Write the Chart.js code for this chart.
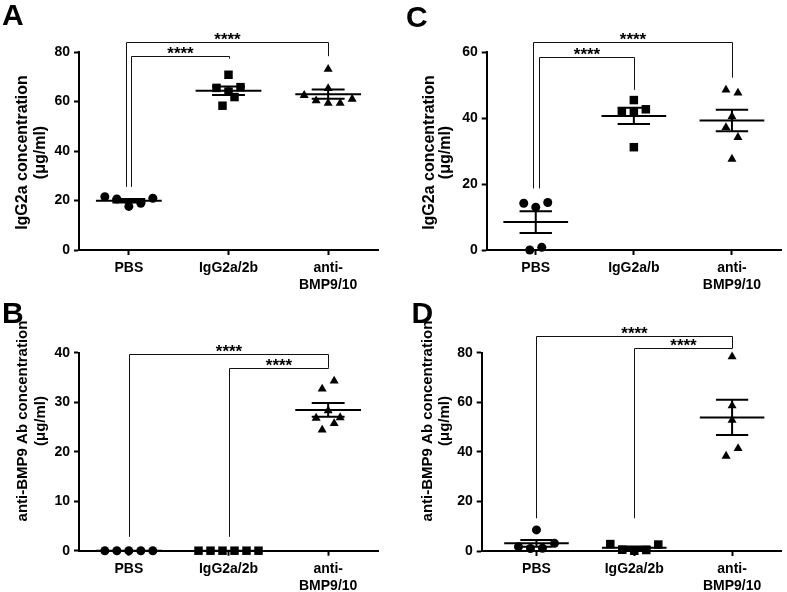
<!DOCTYPE html>
<html>
<head>
<meta charset="utf-8">
<script src="https://cdn.jsdelivr.net/npm/chart.js@4.4.0/dist/chart.umd.min.js"></script>
<style>
html, body { margin: 0; padding: 0; background: #fff; }
#wrap { position: relative; width: 787px; height: 592px; overflow: hidden; }
#wrap canvas { position: absolute; }
</style>
</head>
<body>
<div id="wrap">
  <canvas id="chartA" width="393" height="296" style="left:0px;top:0px"></canvas>
  <canvas id="chartB" width="393" height="296" style="left:0px;top:296px"></canvas>
  <canvas id="chartC" width="394" height="296" style="left:393px;top:0px"></canvas>
  <canvas id="chartD" width="394" height="296" style="left:393px;top:296px"></canvas>
</div>
<script>
// group labels
var groupsAB = ['PBS', 'IgG2a/2b', ['anti-', 'BMP9/10']];
var groupsC = ['PBS', 'IgG2a/b', ['anti-', 'BMP9/10']];

// A - IgG2a concentration (ug/ml)
var pbsA = [21.5, 20.6, 17.6, 18.9, 20.9];
var iggA = [70.8, 65.5, 64.0, 65.8, 58.3, 61.8];
var antiA = [73.1, 65.3, 62.5, 60.3, 59.3, 59.3, 61.0];
var ticksA = [0, 20, 40, 60, 80];

// B - anti-BMP9 Ab concentration (ug/ml)
var pbsB = [0, 0, 0, 0, 0];
var iggB = [0, 0, 0, 0, 0, 0];
var antiB = [32.7, 34.3, 26.8, 28.3, 26.9, 24.4, 25.7];
var ticksB = [0, 10, 20, 30, 40];

// C - IgG2a concentration (ug/ml)
var pbsC = [14.2, 13.0, 14.4, 0.0, 0.8];
var iggC = [45.5, 42.0, 42.0, 42.7, 31.2];
var antiC = [48.6, 47.7, 40.5, 37.2, 34.2, 27.6];
var ticksC = [0, 20, 40, 60];

// D - anti-BMP9 Ab concentration (ug/ml)
var pbsD = [8.5, 1.7, 1.0, 1.1, 3.1];
var iggD = [2.8, 0.5, 0.1, 0.4, 2.6];
var antiD = [78.4, 58.6, 52.8, 38.3, 41.4];
var ticksD = [0, 20, 40, 60, 80];

// significance brackets (group index / data units)
var bracketsA = [
    { from: -0.025, to: 2, top: 83.9, leftEnd: 25.5, rightEnd: 78.3, text: '****' },
    { from: 0.025, to: 1, top: 78.3, leftEnd: 25.5, rightEnd: 77.3, text: '****' }
];
var bracketsB = [
    { from: 0, to: 2, top: 39.7, leftEnd: 2.8, rightEnd: 37.0, text: '****' },
    { from: 1, to: 2, top: 37.0, leftEnd: 2.8, rightEnd: 37.0, text: '****' }
];
var bracketsC = [
    { from: -0.03, to: 2, top: 63.0, leftEnd: 18.7, rightEnd: 52.3, text: '****' },
    { from: 0.03, to: 1, top: 58.7, leftEnd: 18.7, rightEnd: 48.6, text: '****' }
];
var bracketsD = [
    { from: 0, to: 2, top: 86.9, leftEnd: 13.2, rightEnd: 81.8, text: '****' },
    { from: 1, to: 2, top: 81.8, leftEnd: 13.2, rightEnd: 81.8, text: '****' }
];

var FONT = '"Liberation Sans", Arial, sans-serif';
var tickFont = { family: FONT, size: 14, weight: 'bold' };

var panels = [
    { id: 'chartA', letter: 'A', letterX: 2, letterY: 25, w: 393, h: 296,
      area: { l: 79, t: 52, r: 378, b: 250 }, xmin: -0.5,
      groups: groupsAB, series: [pbsA, iggA, antiA], yTicks: ticksA, brackets: bracketsA,
      title: ['IgG2a concentration', '(\u03bcg/ml)'], titleSize: 16, titleX: [23, 41], titleY: 152.5 },
    { id: 'chartB', letter: 'B', letterX: 2, letterY: 27.3, w: 393, h: 296,
      area: { l: 79, t: 56.7, r: 378, b: 254.7 }, xmin: -0.5,
      groups: groupsAB, series: [pbsB, iggB, antiB], yTicks: ticksB, brackets: bracketsB,
      title: ['anti-BMP9 Ab concentration', '(\u03bcg/ml)'], titleSize: 15, titleX: [23, 41], titleY: 125 },
    { id: 'chartC', letter: 'C', letterX: 13, letterY: 26.7, w: 394, h: 296,
      area: { l: 93.7, t: 52.3, r: 392, b: 250 }, xmin: -0.5,
      groups: groupsC, series: [pbsC, iggC, antiC], yTicks: ticksC, brackets: bracketsC,
      title: ['IgG2a concentration', '(\u03bcg/ml)'], titleSize: 16, titleX: [37, 53], titleY: 152.5 },
    { id: 'chartD', letter: 'D', letterX: 18.5, letterY: 27.3, w: 394, h: 296,
      area: { l: 88.7, t: 56.7, r: 392, b: 255 }, xmin: -0.56,
      groups: groupsAB, series: [pbsD, iggD, antiD], yTicks: ticksD, brackets: bracketsD,
      title: ['anti-BMP9 Ab concentration', '(\u03bcg/ml)'], titleSize: 15, titleX: [35, 52], titleY: 125 }
];

function mean(a) {
    var s = 0;
    a.forEach(function(v) { s += v; });
    return s / a.length;
}

function sem(a) {
    var m = mean(a), ss = 0;
    a.forEach(function(v) { ss += (v - m) * (v - m); });
    return Math.sqrt(ss / (a.length - 1)) / Math.sqrt(a.length);
}

// scatter layout like the original: close values share a row, spread sideways
var SPACING = 12, ROW_TOL = 10.7;
function swarm(vals, g, chart) {
    var xs = chart.scales.x, ys = chart.scales.y;
    var pxPerUnit = xs.getPixelForValue(1) - xs.getPixelForValue(0);
    var order = vals.map(function(v, i) { return i; });
    order.sort(function(a, b) { return vals[a] - vals[b] || a - b; });
    var rows = [], cur = null;
    order.forEach(function(i) {
        var py = ys.getPixelForValue(vals[i]);
        if (!cur || Math.abs(cur.start - py) > ROW_TOL) {
            cur = { start: py, members: [] };
            rows.push(cur);
        }
        cur.members.push(i);
    });
    var out = [];
    rows.forEach(function(r) {
        r.members.sort(function(a, b) { return a - b; });
        var n = r.members.length;
        r.members.forEach(function(i, k) {
            out[i] = { x: g + (k - (n - 1) / 2) * SPACING / pxPerUnit, y: vals[i] };
        });
    });
    return out;
}

function makeDeco(p) {
    return {
        id: 'deco',
        beforeDatasetsDraw: function(chart) {
            // mean +/- SEM
            var ctx = chart.ctx, xs = chart.scales.x, ys = chart.scales.y;
            ctx.save();
            ctx.strokeStyle = '#000';
            ctx.lineWidth = 2;
            p.series.forEach(function(vals, g) {
                var m = mean(vals), s = sem(vals);
                var cx = xs.getPixelForValue(g);
                var wm = xs.getPixelForValue(g + 0.33) - cx;
                var ws = xs.getPixelForValue(g + 0.165) - cx;
                var ym = ys.getPixelForValue(m), yhi = ys.getPixelForValue(m + s), ylo = ys.getPixelForValue(m - s);
                ctx.beginPath();
                ctx.moveTo(cx - wm, ym); ctx.lineTo(cx + wm, ym);
                if (s > 0) {
                    ctx.moveTo(cx - ws, yhi); ctx.lineTo(cx + ws, yhi);
                    ctx.moveTo(cx - ws, ylo); ctx.lineTo(cx + ws, ylo);
                    ctx.moveTo(cx, yhi); ctx.lineTo(cx, ylo);
                }
                ctx.stroke();
            });
            ctx.restore();
        },
        afterDraw: function(chart) {
            var ctx = chart.ctx, xs = chart.scales.x, ys = chart.scales.y;
            ctx.save();
            // brackets
            ctx.strokeStyle = '#111';
            ctx.lineWidth = 1;
            ctx.fillStyle = '#000';
            ctx.font = 'bold 17px ' + FONT;
            ctx.textAlign = 'center';
            ctx.textBaseline = 'alphabetic';
            p.brackets.forEach(function(b) {
                var x1 = Math.round(xs.getPixelForValue(b.from)) + 0.5;
                var x2 = Math.round(xs.getPixelForValue(b.to)) + 0.5;
                var yt = Math.round(ys.getPixelForValue(b.top)) + 0.5;
                var y1 = ys.getPixelForValue(b.leftEnd), y2 = ys.getPixelForValue(b.rightEnd);
                ctx.beginPath();
                ctx.moveTo(x1, y1); ctx.lineTo(x1, yt); ctx.lineTo(x2, yt); ctx.lineTo(x2, y2);
                ctx.stroke();
                ctx.fillText(b.text, (x1 + x2) / 2, yt + 2);
            });
            // y axis title (two lines, rotated)
            ctx.font = 'bold ' + p.titleSize + 'px ' + FONT;
            ctx.textBaseline = 'middle';
            p.title.forEach(function(line, i) {
                ctx.save();
                ctx.translate(p.titleX[i], p.titleY);
                ctx.rotate(-Math.PI / 2);
                ctx.fillText(line, 0, 0);
                ctx.restore();
            });
            // panel letter
            ctx.font = 'bold 30px ' + FONT;
            ctx.textAlign = 'left';
            ctx.textBaseline = 'alphabetic';
            ctx.fillText(p.letter, p.letterX, p.letterY);
            ctx.restore();
        }
    };
}

function buildPanel(p) {
    var styles = ['circle', 'rect', 'triangle'];
    var radii = [4.5, 6, 5.2];
    var datasets = p.series.map(function(vals, g) {
        return {
            data: vals.map(function(v) { return { x: g, y: v }; }),
            pointStyle: styles[g],
            pointRadius: radii[g],
            backgroundColor: '#000',
            borderColor: '#000',
            borderWidth: 0,
            showLine: false,
            clip: false
        };
    });
    var yt = p.yTicks;
    var axisGrid = { drawOnChartArea: false, drawTicks: true, tickLength: 5, tickColor: '#000', tickWidth: 2 };
    var axisBorder = { color: '#000', width: 2 };
    var chart = new Chart(document.getElementById(p.id), {
        type: 'scatter',
        data: { datasets: datasets },
        options: {
            responsive: false,
            animation: false,
            events: [],
            layout: { padding: { top: p.area.t, right: p.w - p.area.r, left: 0, bottom: 0 } },
            plugins: { legend: { display: false }, tooltip: { enabled: false } },
            scales: {
                x: {
                    type: 'linear', min: p.xmin, max: 2.5,
                    afterBuildTicks: function(s) { s.ticks = [0, 1, 2].map(function(v) { return { value: v }; }); },
                    afterFit: function(s) { s.height = p.h - p.area.b; },
                    ticks: {
                        callback: function(v) { return p.groups[v]; },
                        font: tickFont, color: '#000', padding: 5, maxRotation: 0, autoSkip: false
                    },
                    grid: axisGrid,
                    border: axisBorder
                },
                y: {
                    type: 'linear', min: yt[0], max: yt[yt.length - 1],
                    afterBuildTicks: function(s) { s.ticks = yt.map(function(v) { return { value: v }; }); },
                    afterFit: function(s) { s.width = p.area.l; },
                    ticks: { font: tickFont, color: '#000', padding: 4 },
                    grid: axisGrid,
                    border: axisBorder
                }
            }
        },
        plugins: [makeDeco(p)]
    });

    // spread points sideways now that the scales exist
    chart.data.datasets.forEach(function(ds, g) {
        ds.data = swarm(p.series[g], g, chart);
    });
    chart.update('none');
    return chart;
}

panels.forEach(buildPanel);
</script>
</body>
</html>
